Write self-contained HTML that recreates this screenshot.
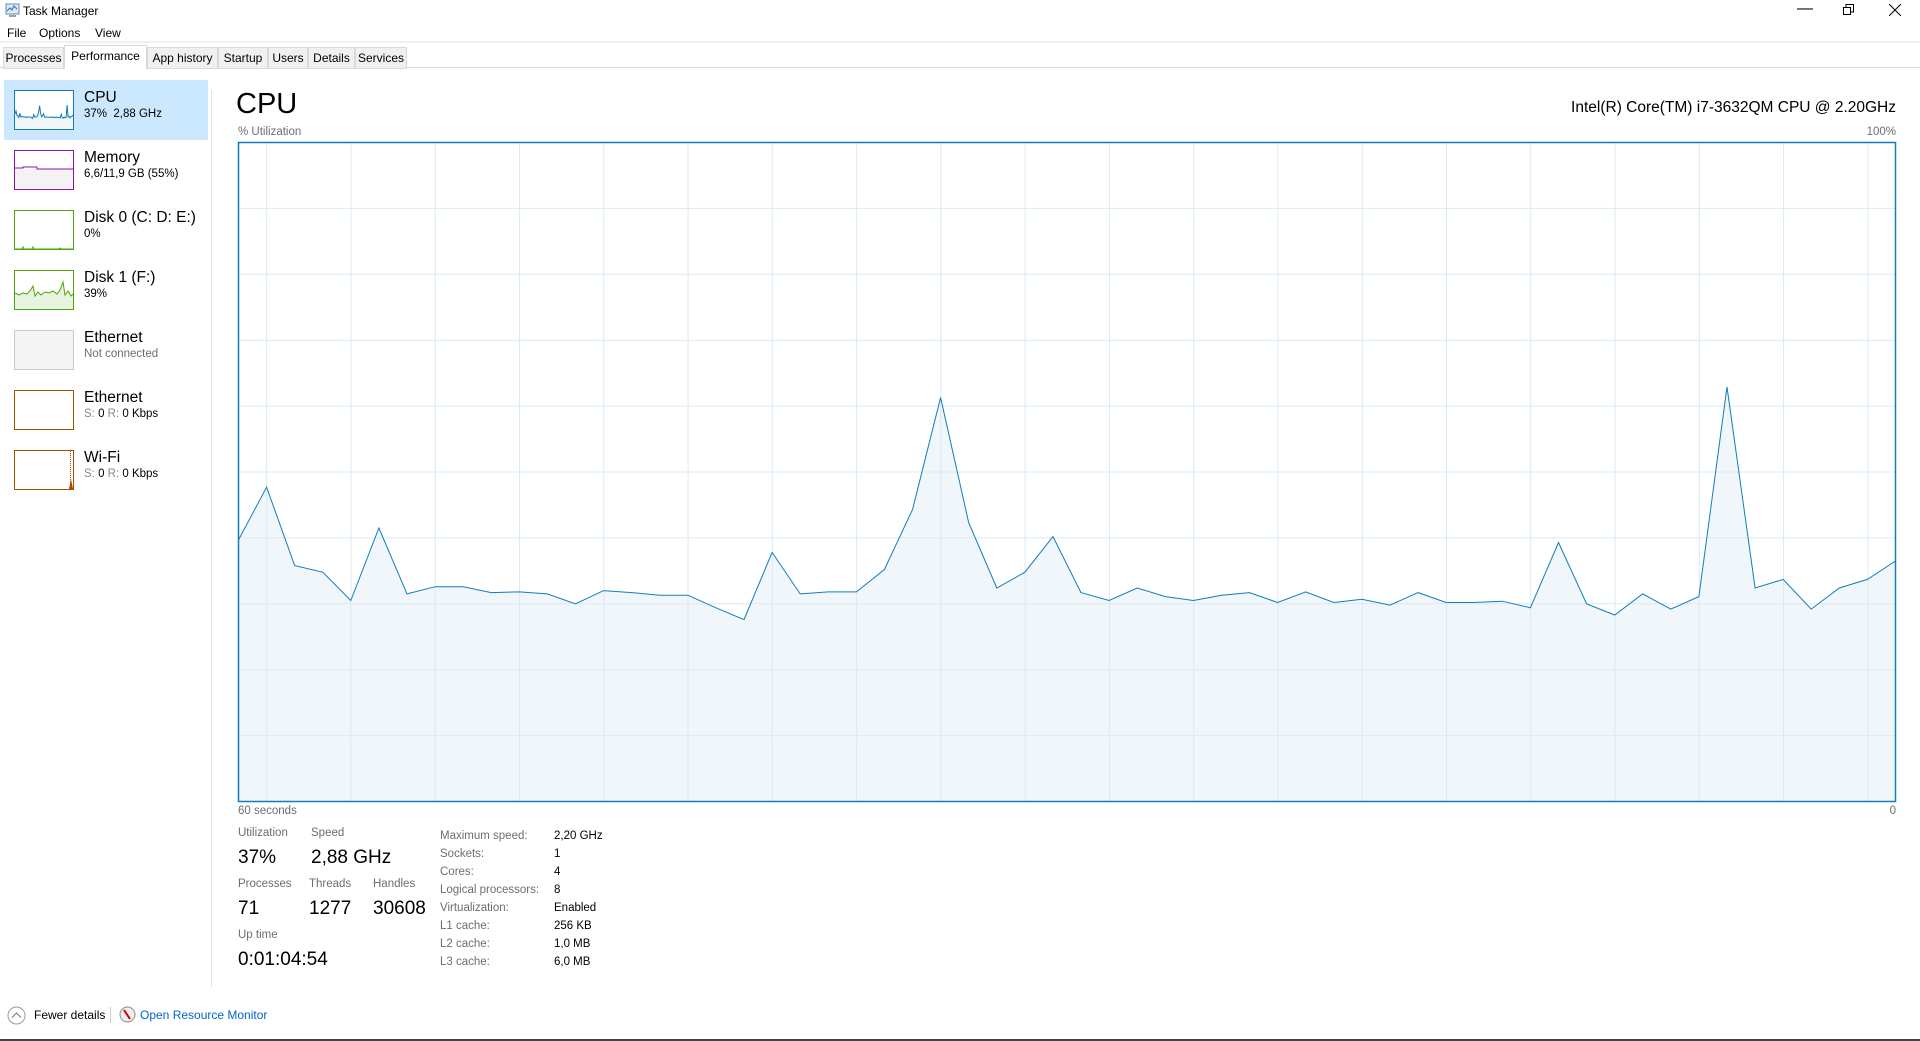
<!DOCTYPE html>
<html><head><meta charset="utf-8"><style>
*{margin:0;padding:0;box-sizing:border-box}
body{width:1920px;height:1041px;background:#fff;font-family:"Liberation Sans",sans-serif;color:#000;position:relative;overflow:hidden}
.abs{position:absolute;white-space:nowrap}
.tab{position:absolute;top:47px;height:22px;border:1px solid #d9d9d9;background:#f0f0f0;font-size:12px;line-height:20px;text-align:center}
.item .nm{position:absolute;left:84px;font-size:15.5px}
.item .sb{position:absolute;left:84px;font-size:11.5px}
.thumb{position:absolute;left:14px;width:60px;height:40px;border:1px solid}
.lbl{font-size:11.5px;color:#6d6d6d}
.val{font-size:19px;color:#000}
.rl{font-size:11.5px;color:#6d6d6d}
.rv{font-size:11.5px;color:#000}
</style></head><body>
<svg class="abs" style="left:4px;top:3px" width="16" height="15"><rect x="2" y="1" width="13" height="10" fill="#dce9f5" stroke="#6a8bb0"/><polyline points="3,8 6,5 8,7 10,3 13,6" fill="none" stroke="#1f6fb5"/><rect x="5" y="12" width="7" height="2" fill="#8aa"/></svg>
<div class="abs" style="left:23px;top:4px;font-size:12px">Task Manager</div>
<div class="abs" style="left:1797px;top:0px;font-size:16px">—</div>
<svg class="abs" style="left:1843px;top:4px" width="12" height="12"><rect x="0.5" y="3.5" width="7" height="7" fill="none" stroke="#000"/><polyline points="3,3 3,0.5 10.5,0.5 10.5,8 8,8" fill="none" stroke="#000"/></svg>
<svg class="abs" style="left:1889px;top:4px" width="12" height="12"><path d="M0,0L12,12M12,0L0,12" stroke="#000"/></svg>
<div class="abs" style="left:7px;top:26px;font-size:12px">File</div>
<div class="abs" style="left:39px;top:26px;font-size:12px">Options</div>
<div class="abs" style="left:95px;top:26px;font-size:12px">View</div>
<div class="abs" style="left:0;top:41px;width:1920px;height:27px;background:#fff;border-top:2px solid #f0f0f0;border-bottom:1px solid #d9d9d9"></div>
<div class="tab" style="left:3px;width:61px">Processes</div>
<div class="tab" style="left:64px;top:45px;height:24px;width:83px;background:#fff;border-bottom:none">Performance</div>
<div class="tab" style="left:147px;width:71px">App history</div>
<div class="tab" style="left:218px;width:50px">Startup</div>
<div class="tab" style="left:268px;width:40px">Users</div>
<div class="tab" style="left:308px;width:47px">Details</div>
<div class="tab" style="left:355px;width:52px">Services</div>

<div class="abs" style="left:211px;top:90px;width:1px;height:897px;background:#e3e3e3"></div>
<div class="abs" style="left:4px;top:80px;width:204px;height:60px;background:#cce8ff"></div>

<div class="item abs" style="left:0;top:80px;width:208px;height:60px">
<svg class="thumb" style="top:10px;border-color:#117dbb;background:#fff" width="60" height="40"><polygon id="cpuThumbFill" fill="#f1f6fa"/><polyline id="cpuThumb" fill="none" stroke="#117dbb" stroke-width="1"/></svg>
<div class="nm" style="top:9px">CPU</div>
<div class="sb" style="top:28px">37%&nbsp; 2,88 GHz</div></div>

<div class="item abs" style="left:0;top:140px;width:208px;height:60px">
<svg class="thumb" style="top:10px;border-color:#8b12ae;background:#fff" width="60" height="40"><rect x="0" y="18" width="58" height="21" fill="#f4f2f4"/><polyline points="0,17 8,17 8,16 22,16 22,18 58,18" fill="none" stroke="#8b12ae"/></svg>
<div class="nm" style="top:9px">Memory</div>
<div class="sb" style="top:28px">6,6/11,9 GB (55%)</div></div>

<div class="item abs" style="left:0;top:200px;width:208px;height:60px">
<svg class="thumb" style="top:10px;border-color:#4da60c;background:#fff" width="60" height="40"><polyline points="0,38 7,38 8,36 9,38 17,38 18,36 19,38 44,38 45,37 46,38 58,38" fill="none" stroke="#4da60c"/></svg>
<div class="nm" style="top:9px">Disk 0 (C: D: E:)</div>
<div class="sb" style="top:28px">0%</div></div>

<div class="item abs" style="left:0;top:260px;width:208px;height:60px">
<svg class="thumb" style="top:10px;border-color:#4da60c;background:#fff" width="60" height="40"><polygon points="0,22 4,24 8,22 12,23 15,20 18,15 20,25 23,21 26,24 30,21 34,22 38,20 42,23 45,19 48,11 50,24 53,20 56,25 58,23 58,39 0,39" fill="#e8f4e0"/><polyline points="0,22 4,24 8,22 12,23 15,20 18,15 20,25 23,21 26,24 30,21 34,22 38,20 42,23 45,19 48,11 50,24 53,20 56,25 58,23" fill="none" stroke="#4da60c"/></svg>
<div class="nm" style="top:9px">Disk 1 (F:)</div>
<div class="sb" style="top:28px">39%</div></div>

<div class="item abs" style="left:0;top:320px;width:208px;height:60px">
<div class="thumb" style="top:10px;border-color:#c8c8c8;background:#f4f4f4"></div>
<div class="nm" style="top:9px">Ethernet</div>
<div class="sb" style="top:28px;color:#6d6d6d">Not connected</div></div>

<div class="item abs" style="left:0;top:380px;width:208px;height:60px">
<div class="thumb" style="top:10px;border-color:#a74f01;background:#fff"></div>
<div class="nm" style="top:9px">Ethernet</div>
<div class="sb" style="top:28px"><span style="color:#888">S:</span> 0 <span style="color:#888">R:</span> 0 Kbps</div></div>

<div class="item abs" style="left:0;top:440px;width:208px;height:60px">
<svg class="thumb" style="top:10px;border-color:#a74f01;background:#fff" width="60" height="40"><line x1="55.5" y1="0" x2="55.5" y2="38" stroke="#a74f01" stroke-dasharray="1,1"/><polygon points="54,38 56,28 58,38" fill="#a74f01"/></svg>
<div class="nm" style="top:9px">Wi-Fi</div>
<div class="sb" style="top:28px"><span style="color:#888">S:</span> 0 <span style="color:#888">R:</span> 0 Kbps</div></div>

<div class="abs" style="left:236px;top:88px;font-size:29px">CPU</div>
<div class="abs" style="right:24px;top:99px;font-size:15.5px">Intel(R) Core(TM) i7-3632QM CPU @ 2.20GHz</div>
<div class="abs" style="left:238px;top:126px;font-size:11.5px;color:#6d6d6d">% Utilization</div>
<div class="abs" style="right:24px;top:126px;font-size:11.5px;color:#6d6d6d">100%</div>
<div class="abs" style="left:238px;top:805px;font-size:11.5px;color:#6d6d6d">60 seconds</div>
<div class="abs" style="right:24px;top:805px;font-size:11.5px;color:#6d6d6d">0</div>

<svg id="chart" class="abs" style="left:0;top:0" width="1920" height="1041"></svg>

<div class="abs lbl" style="left:238px;top:827px">Utilization</div>
<div class="abs val" style="left:238px;top:847px">37%</div>
<div class="abs lbl" style="left:311px;top:827px">Speed</div>
<div class="abs val" style="left:311px;top:847px">2,88 GHz</div>
<div class="abs lbl" style="left:238px;top:878px">Processes</div>
<div class="abs val" style="left:238px;top:898px">71</div>
<div class="abs lbl" style="left:309px;top:878px">Threads</div>
<div class="abs val" style="left:309px;top:898px">1277</div>
<div class="abs lbl" style="left:373px;top:878px">Handles</div>
<div class="abs val" style="left:373px;top:898px">30608</div>
<div class="abs lbl" style="left:238px;top:929px">Up time</div>
<div class="abs val" style="left:238px;top:949px">0:01:04:54</div>

<div class="abs" style="left:440px;top:827px;line-height:18px">
<div class="rl">Maximum speed:</div><div class="rl">Sockets:</div><div class="rl">Cores:</div><div class="rl">Logical processors:</div><div class="rl">Virtualization:</div><div class="rl">L1 cache:</div><div class="rl">L2 cache:</div><div class="rl">L3 cache:</div></div>
<div class="abs" style="left:554px;top:827px;line-height:18px">
<div class="rv">2,20 GHz</div><div class="rv">1</div><div class="rv">4</div><div class="rv">8</div><div class="rv">Enabled</div><div class="rv">256 KB</div><div class="rv">1,0 MB</div><div class="rv">6,0 MB</div></div>

<svg class="abs" style="left:7px;top:1006px" width="19" height="19"><circle cx="9.5" cy="9.5" r="8.5" fill="none" stroke="#999"/><polyline points="5,11.5 9.5,7 14,11.5" fill="none" stroke="#777"/></svg>
<div class="abs" style="left:34px;top:1008px;font-size:12px">Fewer details</div>
<div class="abs" style="left:110px;top:1007px;width:1px;height:16px;background:#ccc"></div>
<svg class="abs" style="left:119px;top:1006px" width="17" height="17"><circle cx="8.5" cy="8.5" r="7.5" fill="#eee" stroke="#888"/><line x1="5" y1="4" x2="11" y2="13" stroke="#c00" stroke-width="2"/></svg>
<div class="abs" style="left:140px;top:1008px;font-size:12px;color:#0066cc">Open Resource Monitor</div>
<div class="abs" style="left:0;top:1039px;width:1920px;height:2px;background:#444"></div>

<script>
const cpuValues=[39.7,47.7,35.8,34.8,30.5,41.5,31.5,32.6,32.6,31.7,31.8,31.5,30.0,32.0,31.7,31.3,31.3,29.4,27.6,37.8,31.5,31.8,31.8,35.2,44.3,61.3,42.3,32.4,34.8,40.2,31.7,30.5,32.4,31.1,30.5,31.3,31.7,30.2,31.8,30.2,30.7,29.8,31.7,30.2,30.2,30.4,29.4,39.3,30.0,28.3,31.5,29.2,31.1,62.9,32.4,33.7,29.2,32.4,33.7,36.5];
const yTicks=[0,10,20,30,40,50,60,70,80,90,100];
const ns="http://www.w3.org/2000/svg";
const L=238.5,R=1895.5,T=142.5,B=801.5;
const sx=i=>L+i*(R-L)/(cpuValues.length-1);
const sy=v=>B-v/100*(B-T);
const svg=document.getElementById('chart');
function mk(tag,attrs){const e=document.createElementNS(ns,tag);for(const k in attrs)e.setAttribute(k,attrs[k]);svg.appendChild(e);return e;}
const pts=cpuValues.map((v,i)=>sx(i).toFixed(1)+','+sy(v).toFixed(1)).join(' ');
const area=mk('polygon',{points:pts+' '+R+','+B+' '+L+','+B,fill:'#f1f6fa'});


yTicks.slice(1,-1).forEach(t=>{const g=mk('line',{x1:L,x2:R,y1:sy(t),y2:sy(t),stroke:'#d9eaf4'});

});
for(let x=266.7;x<R;x+=84.27){const g=mk('line',{x1:x,x2:x,y1:T,y2:B,stroke:'#d9eaf4'});

}
const line=mk('polyline',{points:pts,fill:'none',stroke:'#117dbb','stroke-width':1});


const frame=mk('rect',{x:L,y:T,width:R-L,height:B-T,fill:'none',stroke:'#117dbb','stroke-width':1.5});


const tp=cpuValues.map((v,i)=>(i*58/(cpuValues.length-1)).toFixed(1)+','+(38-v/100*38).toFixed(1)).join(' ');
document.getElementById('cpuThumb').setAttribute('points',tp);
document.getElementById('cpuThumbFill').setAttribute('points',tp+' 58,38 0,38');
</script>
</body></html>
